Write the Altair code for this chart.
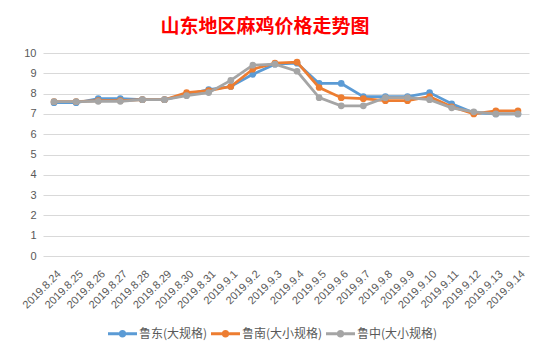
import altair as alt
import pandas as pd

dates = ["2019.8.24", "2019.8.25", "2019.8.26", "2019.8.27", "2019.8.28", "2019.8.29",
         "2019.8.30", "2019.8.31", "2019.9.1", "2019.9.2", "2019.9.3", "2019.9.4",
         "2019.9.5", "2019.9.6", "2019.9.7", "2019.9.8", "2019.9.9", "2019.9.10",
         "2019.9.11", "2019.9.12", "2019.9.13", "2019.9.14"]
series_names = ["鲁东(大规格)", "鲁南(大小规格)", "鲁中(大小规格)"]
east = [7.55, 7.55, 7.75, 7.75, 7.7, 7.7, 7.95, 8.2, 8.35, 8.95, 9.45, 9.5,
        8.5, 8.5, 7.85, 7.85, 7.85, 8.05, 7.5, 7.05, 7.0, 7.0]
south = [7.6, 7.6, 7.65, 7.65, 7.7, 7.7, 8.05, 8.15, 8.35, 9.2, 9.5, 9.55,
         8.3, 7.8, 7.75, 7.65, 7.65, 7.85, 7.35, 7.0, 7.15, 7.15]
central = [7.6, 7.6, 7.62, 7.62, 7.7, 7.7, 7.9, 8.05, 8.65, 9.4, 9.45, 9.1,
           7.8, 7.4, 7.4, 7.8, 7.8, 7.7, 7.3, 7.1, 7.0, 7.0]
colors = ["#5b9bd5", "#ed7d31", "#a5a5a5"]
y_ticks = [0, 1, 2, 3, 4, 5, 6, 7, 8, 9, 10]

rows = []
for name, vals in zip(series_names, [east, south, central]):
    for d, v in zip(dates, vals):
        rows.append({"date": d, "series": name, "price": v})
df = pd.DataFrame(rows)

FONT = "Noto Sans CJK SC"
TXT = "#595959"

x = alt.X("date:N", sort=dates, scale=alt.Scale(type="point", padding=0.5),
          axis=alt.Axis(title=None, labelAngle=-45, labelAlign="right", labelBaseline="middle",
                        labelFont="Liberation Sans", labelFontSize=11, labelColor=TXT,
                        labelPadding=16, labelOffset=5, ticks=False, domain=False, grid=False,
                        labelOverlap=False))
y = alt.Y("price:Q", scale=alt.Scale(domain=[0, 10], nice=False, zero=True),
          axis=alt.Axis(title=None, values=y_ticks, labelFont="Liberation Sans",
                        labelFontSize=11, labelColor=TXT, labelPadding=7,
                        ticks=False, domain=False, grid=True, gridColor="#d9d9d9",
                        gridWidth=1))

sym = ("M-1,-0.1L-0.25,-0.1L-0.25,0.1L-1,0.1Z "
       "M0.25,-0.1L1,-0.1L1,0.1L0.25,0.1Z "
       "M-0.26,0A0.26,0.26 0 1,1 0.26,0A0.26,0.26 0 1,1 -0.26,0Z")

color = alt.Color("series:N", scale=alt.Scale(domain=series_names, range=colors),
                  legend=alt.Legend(title=None, orient="none", legendX=65, legendY=266,
                                    direction="horizontal", columns=3,
                                    symbolType=sym, symbolSize=841,
                                    symbolStrokeWidth=0, symbolOpacity=1,
                                    labelFont=FONT,
                                    labelFontSize=12, labelColor=TXT,
                                    labelOffset=2, columnPadding=3))

base = alt.Chart(df)
layers = []
for name in series_names:
    b = base.transform_filter(alt.datum.series == name)
    layers.append(b.mark_line(strokeWidth=2.75).encode(x=x, y=y, color=color))
    layers.append(b.mark_point(filled=True, size=45, opacity=1).encode(x=x, y=y, color=color))

chart = alt.layer(*layers).properties(
    width=486, height=203,
    title=alt.TitleParams("山东地区麻鸡价格走势图", font=FONT, fontSize=19,
                          fontWeight="bold", color="#ff0000", anchor="middle",
                          dx=-21, offset=10),
    padding={"left": 43, "top": 53, "right": 18, "bottom": 97},
    autosize="none",
    background="white",
).configure_view(stroke=None)

chart.save("out.html", embed_options={"renderer": "svg", "actions": False})
